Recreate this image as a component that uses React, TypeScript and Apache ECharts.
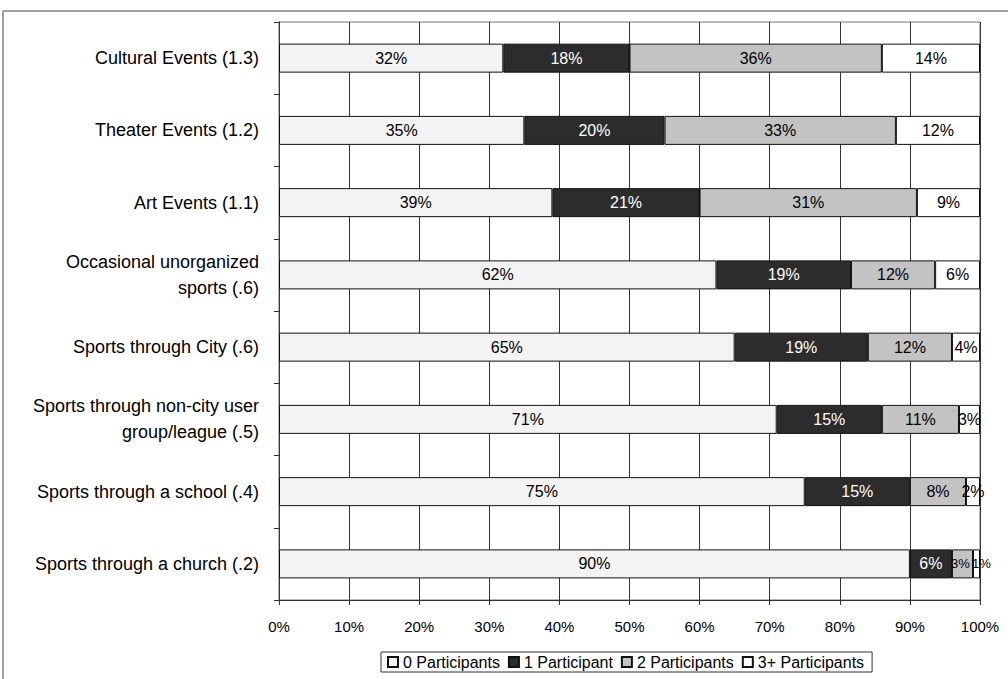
import React, { useEffect, useRef } from "react";
import * as echarts from "echarts";

const categories = [
  "Cultural Events (1.3)",
  "Theater Events (1.2)",
  "Art Events (1.1)",
  "Occasional unorganized\nsports (.6)",
  "Sports through City (.6)",
  "Sports through non-city user\ngroup/league (.5)",
  "Sports through a school (.4)",
  "Sports through a church (.2)",
];

const zeroParticipants = [32, 35, 39, 62.4, 65, 71, 75, 90];
const oneParticipant = [18, 20, 21, 19.2, 19, 15, 15, 6];
const twoParticipants = [36, 33, 31, 12.0, 12, 11, 8, 3];
const threePlusParticipants = [14, 12, 9, 6.4, 4, 3, 2, 1];

const seriesNames = ["0 Participants", "1 Participant", "2 Participants", "3+ Participants"];
const xTicks = [0, 10, 20, 30, 40, 50, 60, 70, 80, 90, 100];

const FONT = "'Liberation Sans', Arial, Helvetica, sans-serif";

export default function App() {
  const ref = useRef<HTMLDivElement>(null);
  useEffect(() => {
    if (!ref.current) return;
    const chart = echarts.init(ref.current, null, { renderer: "svg" });
    const fills = ["#f3f3f3", "#2c2c2c", "#c3c3c3", "#ffffff"];
    const labelColors = ["#000", "#fff", "#000", "#000"];
    const datasets = [zeroParticipants, oneParticipant, twoParticipants, threePlusParticipants];
    const last = categories.length - 1;
    chart.setOption({
      animation: false,
      backgroundColor: "#fff",
      textStyle: { fontFamily: FONT },
      grid: {
        left: 279,
        right: 28,
        top: 22,
        bottom: 79,
        show: true,
        borderColor: "#777",
        borderWidth: 1,
        outerBoundsMode: "none",
      },
      legend: {
        left: 381,
        top: 652,
        data: seriesNames,
        itemWidth: 10,
        itemHeight: 10,
        itemGap: 8,
        padding: [2, 8, 2, 6],
        borderColor: "#333",
        borderWidth: 1,
        textStyle: { fontSize: 16, color: "#000", fontFamily: FONT },
        icon: "rect",
      },
      xAxis: {
        type: "value",
        min: 0,
        max: 100,
        interval: 10,
        axisLine: { show: true, lineStyle: { color: "#333", width: 1 } },
        axisTick: { show: true, length: 5, lineStyle: { color: "#333" } },
        axisLabel: {
          margin: 19,
          fontSize: 15,
          color: "#000",
          fontFamily: FONT,
          formatter: (v: number) => (xTicks.includes(v) ? v + "%" : ""),
        },
        splitLine: { show: true, lineStyle: { color: "#333", width: 1 } },
      },
      yAxis: {
        type: "category",
        data: categories,
        inverse: true,
        axisLine: { show: true, lineStyle: { color: "#333", width: 1 } },
        axisTick: { show: true, length: 5, lineStyle: { color: "#333" } },
        axisLabel: {
          margin: 20,
          fontSize: 18,
          lineHeight: 26,
          color: "#000",
          align: "right",
          fontFamily: FONT,
        },
        splitLine: { show: false },
      },
      graphic: [
        { type: "line", shape: { x1: 3, y1: 11, x2: 1008, y2: 11 }, style: { stroke: "#444", lineWidth: 1 } },
        { type: "line", shape: { x1: 3, y1: 11, x2: 3, y2: 679 }, style: { stroke: "#444", lineWidth: 1 } },
      ],
      series: datasets.map((d, i) => ({
        name: seriesNames[i],
        type: "bar",
        stack: "total",
        barWidth: 29,
        data: d.map((v, j) => {
          if (j === last && i === 2) return { value: v, label: { offset: [-2, 0], fontSize: 13 } };
          if (j === last && i === 3) return { value: v, label: { offset: [5, 0], fontSize: 13 } };
          return v;
        }),
        itemStyle: { color: fills[i], borderColor: "#111", borderWidth: 1 },
        label: {
          show: true,
          position: "inside",
          fontSize: 16,
          color: labelColors[i],
          fontFamily: FONT,
          formatter: (p: any) => Math.round(p.value) + "%",
        },
      })),
    });
    return () => chart.dispose();
  }, []);
  return (
    <div
      ref={ref}
      style={{ position: "fixed", left: 0, top: 0, width: 1008, height: 679 }}
    />
  );
}
